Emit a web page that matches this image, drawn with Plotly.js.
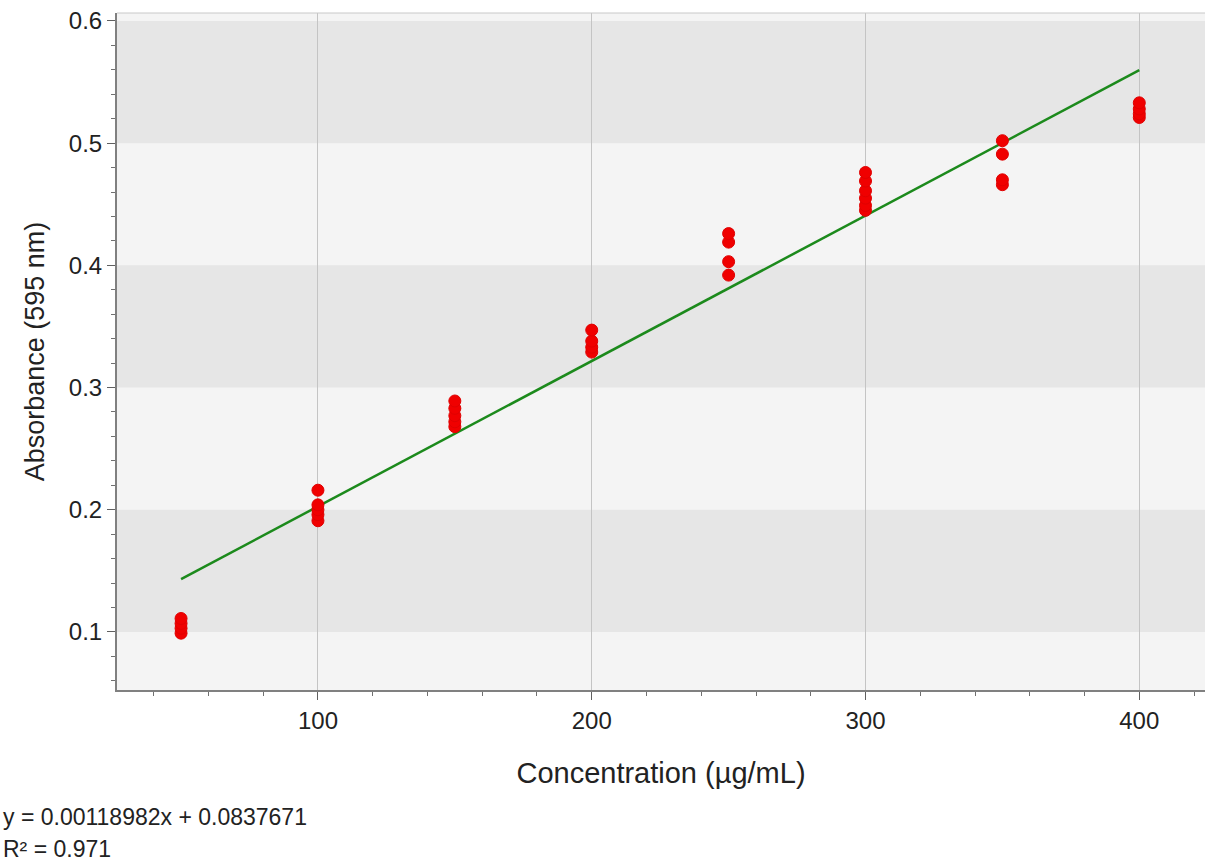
<!DOCTYPE html>
<html>
<head>
<meta charset="utf-8">
<script src="https://cdn.plot.ly/plotly-3.0.1.min.js"></script>
<style>html,body{margin:0;padding:0;background:#fff;}#chart{width:1206px;height:862px;}</style>
</head>
<body>
<div id="chart"></div>
<script>
// Measured points (concentration µg/mL, absorbance at 595 nm)
const concentration = [50,50,50,50, 100,100,100,100,100, 150,150,150,150,150, 200,200,200,200, 250,250,250,250, 300,300,300,300,300,300, 350,350,350,350, 400,400,400,400];
const absorbance    = [0.099,0.103,0.107,0.111, 0.191,0.196,0.200,0.204,0.216, 0.268,0.272,0.277,0.283,0.289, 0.329,0.333,0.338,0.347, 0.392,0.403,0.419,0.426, 0.445,0.449,0.455,0.461,0.469,0.476, 0.466,0.470,0.491,0.502, 0.521,0.524,0.528,0.533];

// Linear fit shown on the chart
const slope = 0.00118982;
const intercept = 0.0837671;
const rSquared = 0.971;
const fitX = [50, 400];
const fitY = [0.1432581, 0.5596951];

// Alternating background bands (absorbance ranges)
const bandLows  = [0.1, 0.3, 0.5];
const bandHighs = [0.2, 0.4, 0.6];

const shapes = bandLows.map((lo, i) => ({
  type: 'rect', xref: 'paper', yref: 'y', x0: 0, x1: 1, y0: lo, y1: bandHighs[i],
  fillcolor: '#e6e6e6', line: {width: 0}, layer: 'below'
}));
shapes.push({type:'line', xref:'paper', yref:'paper', x0:0, x1:1, y0:1, y1:1, line:{color:'#c8c8c8', width:1}});

const traces = [
  {
    x: fitX, y: fitY, type: 'scatter', mode: 'lines',
    line: {color: '#1c8a1c', width: 2.5}, hoverinfo: 'skip', showlegend: false
  },
  {
    x: concentration, y: absorbance, type: 'scatter', mode: 'markers',
    marker: {color: '#f00000', size: 12, line: {color: '#e00000', width: 1}},
    showlegend: false
  }
];

const fam = 'Liberation Sans, Arial, sans-serif';
const txt = '#222';

const layout = {
  width: 1206, height: 862,
  margin: {l: 117, r: 1, t: 13, b: 172},
  paper_bgcolor: '#ffffff',
  plot_bgcolor: '#f4f4f4',
  font: {family: fam, color: txt, size: 18},
  showlegend: false,
  xaxis: {
    range: [26.6, 424], tickmode: 'linear', tick0: 0, dtick: 100,
    showgrid: true, gridcolor: '#c4c4c4', gridwidth: 1, zeroline: false,
    showline: true, linecolor: '#808080', linewidth: 2,
    ticks: 'outside', ticklen: 8, tickcolor: '#606060', tickwidth: 1,
    minor: {dtick: 20, ticks: 'outside', ticklen: 4, tickcolor: '#707070', showgrid: false},
    tickfont: {size: 24, family: fam, color: txt},
    title: {text: 'Concentration (µg/mL)', font: {size: 29, family: fam, color: txt}, standoff: 30}
  },
  yaxis: {
    range: [0.0525, 0.6065], tickmode: 'linear', tick0: 0, dtick: 0.1, tickformat: '.1f',
    showgrid: false, zeroline: false,
    showline: true, linecolor: '#808080', linewidth: 2,
    ticks: 'outside', ticklen: 8, tickcolor: '#606060', tickwidth: 1,
    minor: {dtick: 0.02, ticks: 'outside', ticklen: 4, tickcolor: '#707070', showgrid: false},
    tickfont: {size: 24, family: fam, color: txt},
    title: {text: 'Absorbance (595 nm)', font: {size: 27, family: fam, color: txt}, standoff: 16}
  },
  shapes: shapes,
  annotations: [
    {xref: 'paper', yref: 'paper', x: -128/1205, y: -127/677, xanchor: 'left', yanchor: 'middle',
     text: 'y = ' + slope + 'x + ' + intercept, showarrow: false,
     font: {size: 23, family: fam, color: txt}},
    {xref: 'paper', yref: 'paper', x: -128/1205, y: -159/677, xanchor: 'left', yanchor: 'middle',
     text: 'R² = ' + rSquared, showarrow: false,
     font: {size: 23, family: fam, color: txt}}
  ]
};

Plotly.newPlot('chart', traces, layout, {displayModeBar: false, staticPlot: true});
</script>
</body>
</html>
